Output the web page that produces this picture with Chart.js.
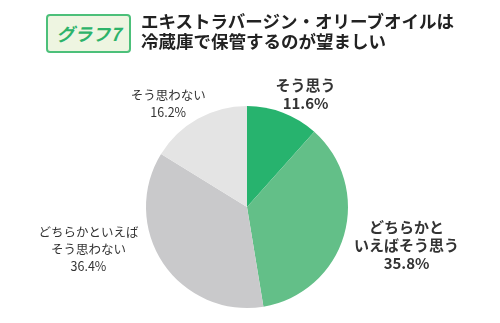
<!DOCTYPE html>
<html lang="ja">
<head>
<meta charset="utf-8">
<script src="https://cdn.jsdelivr.net/npm/chart.js@4"></script>
<style>
  html, body { margin: 0; padding: 0; background: #fff; }
  #wrap { position: relative; width: 500px; height: 323px; font-family: "Noto Sans CJK JP", sans-serif; }
  #badge {
    position: absolute; left: 46px; top: 14px; width: 81px; height: 35px;
    border: 2px solid #4cc07a; border-radius: 4px; background: #eef5e1;
    color: #2db36a; font-weight: bold; font-size: 18px; line-height: 35px; text-align: center;
    font-style: italic;
  }
  #title {
    position: absolute; left: 141px; top: 11px; font-size: 17.5px; font-weight: bold;
    line-height: 20px; color: #222;
  }
  canvas { position: absolute; left: 0; top: 0; }
</style>
</head>
<body>
<div id="wrap">
  <canvas id="pie" width="500" height="323"></canvas>
  <div id="badge">グラフ7</div>
  <div id="title">エキストラバージン・オリーブオイルは<br>冷蔵庫で保管するのが望ましい</div>
</div>
<script>
// answer categories (label lines) and shares in percent
const categories = [
  ["そう思う"],
  ["どちらかと", "いえばそう思う"],
  ["どちらかといえば", "そう思わない"],
  ["そう思わない"]
];
const shares = [11.6, 35.8, 36.4, 16.2];
const sliceColors = ["#27b36e", "#63bf88", "#c9c9cb", "#e4e4e4"];
const boldLabel = [true, true, false, false];

// label anchor offsets from the pie centre, in radius units
const labelPos = [[0.58, -1.12], [1.58, 0.38], [-1.57, 0.42], [-0.78, -1.025]];

// draws the category name + percentage next to each slice
const sliceLabels = {
  id: "sliceLabels",
  afterDraw(chart) {
    const c = chart.ctx;
    const arc = chart.getDatasetMeta(0).data[0];
    const r = arc.outerRadius;
    c.save();
    c.textAlign = "center";
    c.textBaseline = "middle";
    c.fillStyle = "#333";
    shares.forEach((v, i) => {
      const lines = categories[i].concat([v.toFixed(1) + "%"]);
      const x = arc.x + labelPos[i][0] * r;
      const y = arc.y + labelPos[i][1] * r;
      c.font = (boldLabel[i] ? "bold 15px" : "12.5px") + ' "Noto Sans CJK JP", sans-serif';
      const lh = boldLabel[i] ? 18 : 17;
      lines.forEach((t, k) => {
        c.fillText(t, x, y + (k - (lines.length - 1) / 2) * lh);
      });
    });
    c.restore();
  }
};

new Chart(document.getElementById("pie"), {
  type: "pie",
  data: {
    labels: categories.map(l => l.join("")),
    datasets: [{
      data: shares,
      backgroundColor: sliceColors,
      borderWidth: 0
    }]
  },
  options: {
    responsive: false,
    animation: false,
    layout: { padding: { top: 106, bottom: 15, left: 146, right: 152 } },
    plugins: { legend: { display: false }, tooltip: { enabled: false } }
  },
  plugins: [sliceLabels]
});
</script>
</body>
</html>
